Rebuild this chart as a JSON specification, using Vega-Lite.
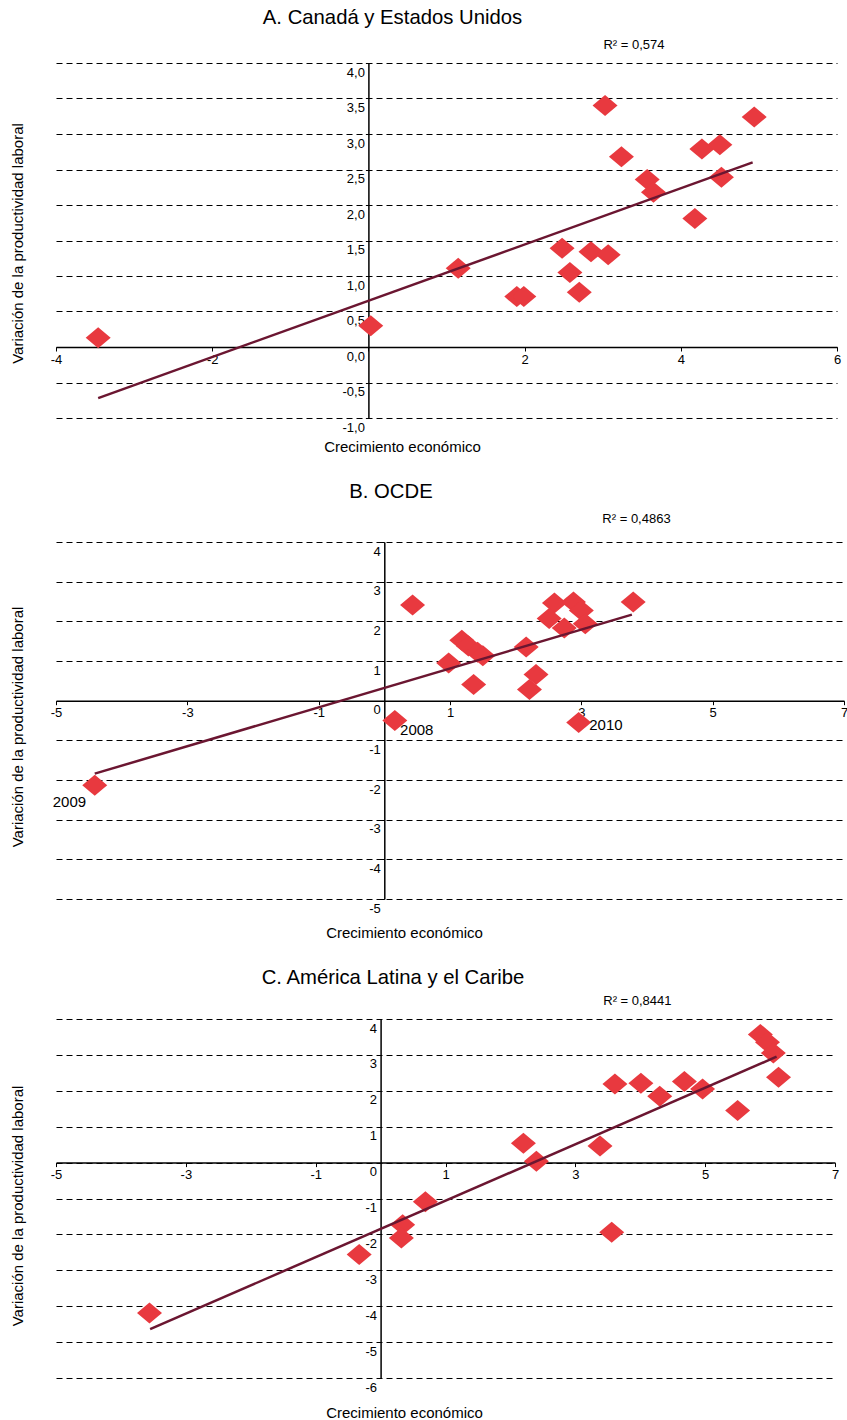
{
  "$schema": "https://vega.github.io/schema/vega-lite/v6.json",
  "padding": {"left": 10, "top": 8, "right": 0, "bottom": 0},
  "spacing": 27,
  "config": {
    "view": {"stroke": null},
    "font": "Liberation Sans",
    "axis": {
      "domainColor": "#000",
      "domainWidth": 1.5,
      "tickColor": "#000",
      "tickWidth": 1,
      "tickCount": 50,
      "labelFont": "Liberation Sans",
      "labelFontSize": 13,
      "labelColor": "#000",
      "labelFlush": false,
      "labelOverlap": false,
      "titleFont": "Liberation Sans",
      "titleFontSize": 15,
      "titleFontWeight": "normal",
      "titleColor": "#000",
      "zindex": 0
    },
    "axisX": {"grid": false, "tickSize": 4, "labelPadding": 2, "titleAlign": "center", "titleBaseline": "middle"},
    "axisY": {"grid": true, "gridDash": [6, 4], "gridColor": "#000", "gridWidth": 1, "tickSize": 3, "labelPadding": 1, "labelOffset": 9, "titleAlign": "center", "titleBaseline": "middle", "titleAngle": -90},
    "title": {"font": "Liberation Sans", "fontSize": 20.3, "fontWeight": "normal", "color": "#000", "baseline": "alphabetic", "frame": "group"}
  },
  "datasets": {
    "ptsA": [
      {"x": -3.46, "y": 0.13}, {"x": 0.03, "y": 0.30}, {"x": 1.15, "y": 1.11}, {"x": 1.90, "y": 0.71},
      {"x": 1.99, "y": 0.71}, {"x": 2.48, "y": 1.39}, {"x": 2.58, "y": 1.05}, {"x": 2.70, "y": 0.77},
      {"x": 2.85, "y": 1.34}, {"x": 3.07, "y": 1.30}, {"x": 3.03, "y": 3.40}, {"x": 3.24, "y": 2.68},
      {"x": 3.57, "y": 2.36}, {"x": 3.65, "y": 2.18}, {"x": 4.18, "y": 1.81}, {"x": 4.27, "y": 2.79},
      {"x": 4.50, "y": 2.85}, {"x": 4.52, "y": 2.39}, {"x": 4.94, "y": 3.24}
    ],
    "lineA": [{"x": -3.46, "y": -0.72}, {"x": 4.92, "y": 2.60}],
    "r2A": [{"x": 3.01, "y": 4.26, "label": "R² = 0,574"}],
    "ptsB": [
      {"x": -4.41, "y": -2.13}, {"x": 0.16, "y": -0.50}, {"x": 0.43, "y": 2.41}, {"x": 0.98, "y": 0.95},
      {"x": 1.18, "y": 1.52}, {"x": 1.28, "y": 1.38}, {"x": 1.42, "y": 1.22}, {"x": 1.50, "y": 1.13},
      {"x": 1.36, "y": 0.41}, {"x": 2.16, "y": 1.35}, {"x": 2.31, "y": 0.66}, {"x": 2.21, "y": 0.28},
      {"x": 2.59, "y": 2.46}, {"x": 2.51, "y": 2.07}, {"x": 2.74, "y": 1.83}, {"x": 2.88, "y": 2.49},
      {"x": 3.00, "y": 2.27}, {"x": 3.06, "y": 1.94}, {"x": 3.79, "y": 2.49}, {"x": 2.96, "y": -0.55}
    ],
    "lineB": [{"x": -4.41, "y": -1.84}, {"x": 3.77, "y": 2.17}],
    "r2B": [{"x": 3.32, "y": 4.58, "label": "R² = 0,4863"}],
    "yearsB": [
      {"x": 0.24, "y": -0.75, "label": "2008"},
      {"x": -5.05, "y": -2.55, "label": "2009"},
      {"x": 3.12, "y": -0.62, "label": "2010"}
    ],
    "ptsC": [
      {"x": -3.56, "y": -4.19}, {"x": -0.33, "y": -2.56}, {"x": 0.34, "y": -1.73}, {"x": 0.32, "y": -2.10},
      {"x": 0.69, "y": -1.09}, {"x": 2.20, "y": 0.54}, {"x": 2.40, "y": 0.04}, {"x": 3.38, "y": 0.46},
      {"x": 3.61, "y": 2.19}, {"x": 3.56, "y": -1.94}, {"x": 4.01, "y": 2.21}, {"x": 4.30, "y": 1.85},
      {"x": 4.68, "y": 2.26}, {"x": 4.96, "y": 2.05}, {"x": 5.50, "y": 1.45}, {"x": 5.85, "y": 3.57},
      {"x": 5.96, "y": 3.35}, {"x": 6.05, "y": 3.05}, {"x": 6.13, "y": 2.38}
    ],
    "lineC": [{"x": -3.55, "y": -4.64}, {"x": 6.10, "y": 2.95}],
    "r2C": [{"x": 3.43, "y": 4.50, "label": "R² = 0,8441"}]
  },
  "vconcat": [
    {
      "width": 781,
      "height": 355,
      "title": {"text": "A. Canadá y Estados Unidos", "offset": 10, "dx": -54},
      "layer": [
        {
          "data": {"name": "ptsA"},
          "mark": {"type": "point", "shape": "M0,-0.84L1,0L0,0.84L-1,0Z", "size": 625, "filled": true, "color": "#e8393f", "opacity": 1},
          "encoding": {
            "x": {"field": "x", "type": "quantitative", "scale": {"domain": [-4, 6], "nice": false, "zero": false},
              "axis": {"values": [-4, -2, 0, 2, 4, 6], "labelExpr": "datum.value == 0 ? '' : (datum.value < 0 ? '-' : '') + abs(datum.value)", "offset": -71, "title": "Crecimiento económico", "titleX": 346, "titleY": 99}},
            "y": {"field": "y", "type": "quantitative", "scale": {"domain": [-1, 4], "nice": false, "zero": false},
              "axis": {"values": [-1, -0.5, 0, 0.5, 1, 1.5, 2, 2.5, 3, 3.5, 4], "labelExpr": "(datum.value < 0 ? '-' : '') + replace(format(abs(datum.value), '.1f'), '.', ',')", "offset": -312.4, "title": "Variación de la productividad laboral", "titleX": -351.4, "titleY": 180}}
          }
        },
        {
          "data": {"name": "lineA"},
          "mark": {"type": "line", "color": "#6b1631", "strokeWidth": 2.5},
          "encoding": {"x": {"field": "x", "type": "quantitative"}, "y": {"field": "y", "type": "quantitative"}}
        },
        {
          "data": {"name": "r2A"},
          "mark": {"type": "text", "align": "left", "baseline": "middle", "fontSize": 13, "color": "#000"},
          "encoding": {"x": {"field": "x", "type": "quantitative"}, "y": {"field": "y", "type": "quantitative"}, "text": {"field": "label"}}
        }
      ]
    },
    {
      "width": 788,
      "height": 357,
      "title": {"text": "B. OCDE", "offset": 11, "dx": -59},
      "layer": [
        {
          "data": {"name": "ptsB"},
          "mark": {"type": "point", "shape": "M0,-0.84L1,0L0,0.84L-1,0Z", "size": 625, "filled": true, "color": "#e8393f", "opacity": 1},
          "encoding": {
            "x": {"field": "x", "type": "quantitative", "scale": {"domain": [-5, 7], "nice": false, "zero": false},
              "axis": {"values": [-5, -3, -1, 1, 3, 5, 7], "labelExpr": "(datum.value < 0 ? '-' : '') + abs(datum.value)", "offset": -198.3, "title": "Crecimiento económico", "titleX": 348, "titleY": 232}},
            "y": {"field": "y", "type": "quantitative", "scale": {"domain": [-5, 4], "nice": false, "zero": false},
              "axis": {"values": [-5, -4, -3, -2, -1, 0, 1, 2, 3, 4], "labelExpr": "(datum.value < 0 ? '-' : '') + abs(datum.value)", "offset": -328.3, "title": "Variación de la productividad laboral", "titleX": -367.3, "titleY": 184.5}}
          }
        },
        {
          "data": {"name": "lineB"},
          "mark": {"type": "line", "color": "#6b1631", "strokeWidth": 2.5},
          "encoding": {"x": {"field": "x", "type": "quantitative"}, "y": {"field": "y", "type": "quantitative"}}
        },
        {
          "data": {"name": "r2B"},
          "mark": {"type": "text", "align": "left", "baseline": "middle", "fontSize": 13, "color": "#000"},
          "encoding": {"x": {"field": "x", "type": "quantitative"}, "y": {"field": "y", "type": "quantitative"}, "text": {"field": "label"}}
        },
        {
          "data": {"name": "yearsB"},
          "mark": {"type": "text", "align": "left", "baseline": "middle", "fontSize": 15, "color": "#000"},
          "encoding": {"x": {"field": "x", "type": "quantitative"}, "y": {"field": "y", "type": "quantitative"}, "text": {"field": "label"}}
        }
      ]
    },
    {
      "width": 779,
      "height": 359,
      "title": {"text": "C. América Latina y el Caribe", "offset": 6.5, "dx": -52.5},
      "layer": [
        {
          "data": {"name": "ptsC"},
          "mark": {"type": "point", "shape": "M0,-0.84L1,0L0,0.84L-1,0Z", "size": 625, "filled": true, "color": "#e8393f", "opacity": 1},
          "encoding": {
            "x": {"field": "x", "type": "quantitative", "scale": {"domain": [-5, 7], "nice": false, "zero": false},
              "axis": {"values": [-5, -3, -1, 1, 3, 5, 7], "labelExpr": "(datum.value < 0 ? '-' : '') + abs(datum.value)", "offset": -215.4, "title": "Crecimiento económico", "titleX": 348, "titleY": 249.5}},
            "y": {"field": "y", "type": "quantitative", "scale": {"domain": [-6, 4], "nice": false, "zero": false},
              "axis": {"values": [-6, -5, -4, -3, -2, -1, 0, 1, 2, 3, 4], "labelExpr": "(datum.value < 0 ? '-' : '') + abs(datum.value)", "offset": -324.6, "title": "Variación de la productividad laboral", "titleX": -363.6, "titleY": 186.5}}
          }
        },
        {
          "data": {"name": "lineC"},
          "mark": {"type": "line", "color": "#6b1631", "strokeWidth": 2.5},
          "encoding": {"x": {"field": "x", "type": "quantitative"}, "y": {"field": "y", "type": "quantitative"}}
        },
        {
          "data": {"name": "r2C"},
          "mark": {"type": "text", "align": "left", "baseline": "middle", "fontSize": 13, "color": "#000"},
          "encoding": {"x": {"field": "x", "type": "quantitative"}, "y": {"field": "y", "type": "quantitative"}, "text": {"field": "label"}}
        }
      ]
    }
  ]
}
